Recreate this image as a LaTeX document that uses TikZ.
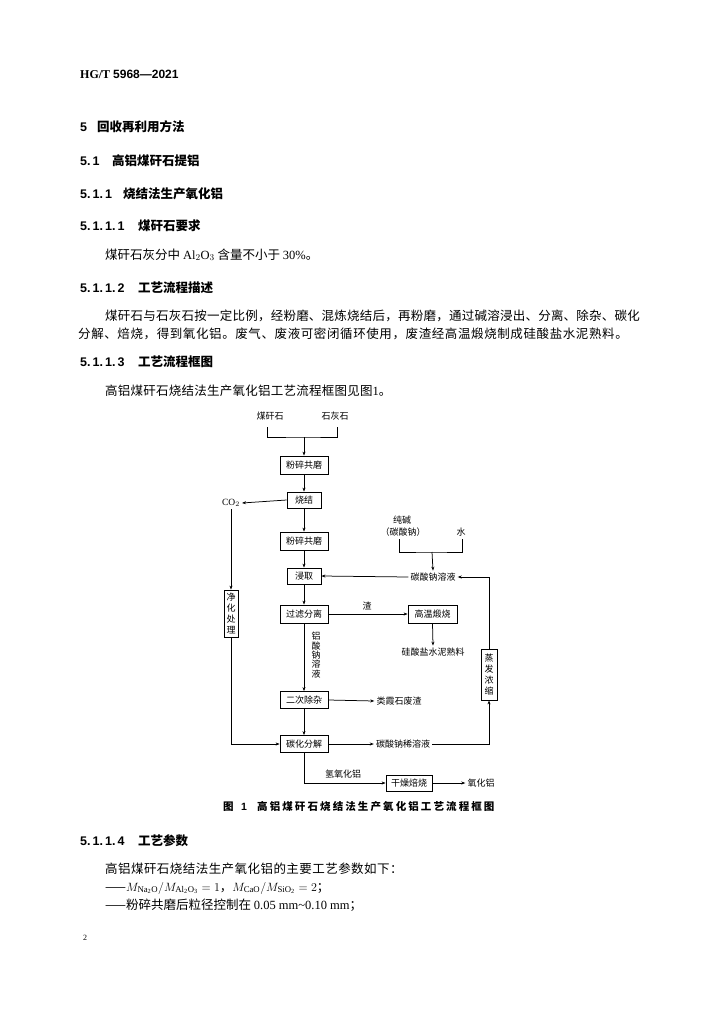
\documentclass[tikz,border=0pt]{standalone}
\usepackage{fontspec}
\setmainfont{Liberation Serif}
\newfontfamily\cjk{Noto Sans CJK SC}
\newfontfamily\arialf{Liberation Sans}
\usetikzlibrary{arrows.meta}
\newcommand\dfont{\cjk\fontsize{9}{11}\selectfont}
\newcommand\bodyf{\cjk\fontsize{12.5}{15}\selectfont}
\newcommand\headf{\cjk\bfseries\fontsize{12.5}{15}\selectfont}
\newcommand\numf{\arialf\bfseries\fontsize{12.5}{15}\selectfont}
\tikzset{
  pbox/.style={draw, line width=0.8pt, minimum height=17pt, font=\dfont, inner sep=1pt},
  vbox/.style={draw, line width=0.8pt, font=\dfont, inner sep=1pt, align=center},
  lbl/.style={font=\dfont, inner sep=2pt},
  conn/.style={line width=0.75pt},
  arr/.style={conn, -{Stealth[length=4pt,width=3pt]}},
  txt/.style={anchor=base west, inner sep=0pt},
}
\begin{document}
\begin{tikzpicture}[x=1pt,y=-1pt]
\fill[white] (0,0) rectangle (724,1024);
\useasboundingbox (0,0) rectangle (724,1024);

% ---------- text above ----------
\node[txt, font=\fontsize{12}{14}\selectfont] (hdr) at (80,79) {{\bfseries HG/T} {\arialf\bfseries 5968—2021}};

\node[txt, font=\numf] (h5n) at (80,132) {5};
\node[txt, font=\headf] (h5) at (97,132) {回收再利用方法};
\node[txt, font=\numf] (h51n) at (80,166) {5.\,1};
\node[txt, font=\headf] (h51) at (112,166) {高铝煤矸石提铝};
\node[txt, font=\numf] (h511n) at (80,199) {5.\,1.\,1};
\node[txt, font=\headf] (h511) at (123,199) {烧结法生产氧化铝};
\node[txt, font=\numf] (h5111n) at (80,231) {5.\,1.\,1.\,1};
\node[txt, font=\headf] (h5111) at (138,231) {煤矸石要求};
\node[txt, font=\bodyf] (p1) at (105,259) {煤矸石灰分中 {\rmfamily Al$_2$O$_3$} 含量不小于 {\rmfamily 30\%}。};

\node[txt, font=\numf] (h5112n) at (80,292) {5.\,1.\,1.\,2};
\node[txt, font=\headf] (h5112) at (138,292) {工艺流程描述};
\node[txt, font=\bodyf\addfontfeature{LetterSpace=1.9}] (p2a) at (105,320) {煤矸石与石灰石按一定比例，经粉磨、混炼烧结后，再粉磨，通过碱溶浸出、分离、除杂、碳化};
\node[txt, font=\bodyf\addfontfeature{LetterSpace=4.8}] (p2b) at (78,338) {分解、焙烧，得到氧化铝。废气、废液可密闭循环使用，废渣经高温煅烧制成硅酸盐水泥熟料。};

\node[txt, font=\numf] (h5113n) at (80,366) {5.\,1.\,1.\,3};
\node[txt, font=\headf] (h5113) at (138,366) {工艺流程框图};
\node[txt, font=\bodyf\addfontfeature{LetterSpace=2}] (p3) at (105,395) {高铝煤矸石烧结法生产氧化铝工艺流程框图见图{\rmfamily 1}。};

% ---------- diagram ----------
\node[lbl] (mgs) at (270,416) {煤矸石};
\node[lbl] (shs) at (335,416) {石灰石};
\coordinate (mgsL) at (267,427);
\coordinate (shsL) at (337,427);
\coordinate (jA) at (304,437);

\node[pbox, minimum width=48pt, minimum height=18pt] (b1) at (304,465) {粉碎共磨};
\node[pbox, minimum width=34pt, minimum height=16pt] (sj) at (304,500) {烧结};
\node[pbox, minimum width=48pt, minimum height=18pt] (b2) at (304,541) {粉碎共磨};
\node[pbox, minimum width=34pt, minimum height=16pt] (jq) at (304,576) {浸取};
\node[pbox, minimum width=48pt, minimum height=18pt] (glfl) at (304,614) {过滤分离};
\node[pbox, minimum width=48pt, minimum height=17pt] (ecc) at (304,700) {二次除杂};
\node[pbox, minimum width=48pt, minimum height=17pt] (thfj) at (304,744) {碳化分解};

\node[lbl, font=\rmfamily\fontsize{9.5}{11}\selectfont] (co2) at (231,503) {CO$_2$};
\node[vbox, minimum width=14pt, minimum height=47pt] (jhcl) at (231,613.5) {净\\化\\处\\理};

\node[lbl] (cj) at (402,520) {纯碱};
\node[lbl] (tsn) at (403,532) {（碳酸钠）};
\node[lbl] (water) at (461,532) {水};
\coordinate (cjL) at (399,539);
\coordinate (waterL) at (462,539);
\coordinate (jB) at (432,552);
\node[lbl] (tsnry) at (433,577) {碳酸钠溶液};

\node[vbox, minimum width=16pt, minimum height=51pt] (zfns) at (489,674.5) {蒸\\发\\浓\\缩};

\node[pbox, minimum width=49pt, minimum height=18pt] (gwds) at (432.5,614) {高温煅烧};
\node[lbl] (zha) at (367,606) {渣};
\node[lbl] (gsy) at (433,652) {硅酸盐水泥熟料};
\node[lbl, align=center, font=\cjk\fontsize{9}{9.4}\selectfont] (lsn) at (316,655) {铝\\酸\\钠\\溶\\液};
\node[lbl] (lxs) at (399,701) {类霞石废渣};
\node[lbl] (tsnxry) at (403,744) {碳酸钠稀溶液};
\node[pbox, minimum width=46pt, minimum height=16pt] (gzbs) at (409,783) {干燥焙烧};
\node[lbl] (qyhl) at (343,774) {氢氧化铝};
\node[lbl] (yhl) at (481,783) {氧化铝};

% connectors
\draw[conn] (mgsL) |- (jA) -| (shsL);
\draw[arr] (jA) -- (b1);
\draw[arr] (b1) -- (sj);
\draw[arr] (sj) -- (b2);
\draw[arr] (b2) -- (jq);
\draw[arr] (jq) -- (glfl);
\draw[arr] (glfl) -- (ecc);
\draw[arr] (ecc) -- (thfj);
\draw[arr] (sj.west) -- (co2.east);
\draw[arr] (co2.south) -- (jhcl.north);
\draw[arr] (jhcl.south) |- (thfj.west);
\draw[conn] (cjL) |- (jB) -| (waterL);
\draw[arr] (jB) -- (tsnry.north);
\draw[arr] (tsnry.west) -- (jq.east);
\draw[arr] (zfns.north) |- (tsnry.east);
\draw[arr] (thfj.east) -- (tsnxry.west);
\draw[arr] (tsnxry.east) -| (zfns.south);
\draw[arr] (glfl.east) -- (gwds.west);
\draw[arr] (gwds.south) -- (gsy.north);
\draw[arr] (ecc.east) -- (lxs.west);
\draw[arr] (thfj.south) |- (gzbs.west);
\draw[arr] (gzbs.east) -- (yhl.west);

% caption
\node[txt, font=\cjk\bfseries\fontsize{10.5}{12}\selectfont] (capA) at (223,810) {图};
\node[txt, font=\arialf\bfseries\fontsize{10.5}{12}\selectfont] (capN) at (241,810) {1};
\node[txt, font=\cjk\bfseries\fontsize{10.5}{12}\selectfont\addfontfeature{LetterSpace=20}] (capB) at (257,810) {高铝煤矸石烧结法生产氧化铝工艺流程框图};

% ---------- text below ----------
\node[txt, font=\numf] (h5114n) at (80,845) {5.\,1.\,1.\,4};
\node[txt, font=\headf] (h5114) at (138,845) {工艺参数};
\node[txt, font=\bodyf\addfontfeature{LetterSpace=3.6}] (p4) at (105,873) {高铝煤矸石烧结法生产氧化铝的主要工艺参数如下：};
\node[txt, font=\bodyf] (p5) at (105,891) {——{\rmfamily $M_{\mathrm{Na_2O}}/M_{\mathrm{Al_2O_3}}=1$}，{\rmfamily $M_{\mathrm{CaO}}/M_{\mathrm{SiO_2}}=2$}；};
\node[txt, font=\bodyf] (p6) at (105,909) {——粉碎共磨后粒径控制在 {\rmfamily 0.05 mm\textasciitilde 0.10 mm}；};
\node[txt, font=\rmfamily\fontsize{8}{10}\selectfont] (pg) at (83,940) {2};
\end{tikzpicture}
\end{document}
